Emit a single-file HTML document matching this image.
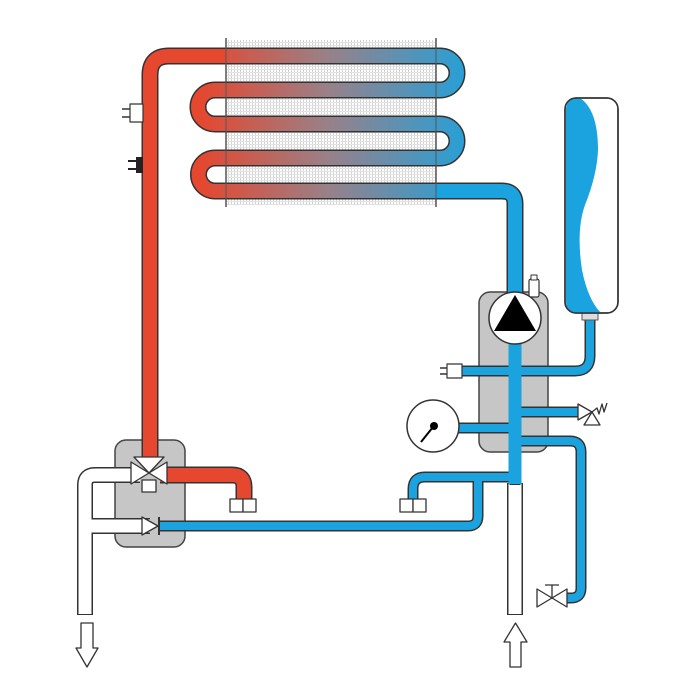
<!DOCTYPE html>
<html><head><meta charset="utf-8"><style>html,body{margin:0;padding:0;background:#fff}svg{display:block}</style></head>
<body>
<svg width="700" height="700" viewBox="0 0 700 700" xmlns="http://www.w3.org/2000/svg">
<defs>
<linearGradient id="g" gradientUnits="userSpaceOnUse" x1="200" y1="0" x2="480" y2="0">
<stop offset="0" stop-color="#e5472f"/><stop offset="0.45" stop-color="#9a8088"/><stop offset="1" stop-color="#1ba3df"/>
</linearGradient>
<pattern id="h" width="3" height="3" patternUnits="userSpaceOnUse">
<rect width="3" height="3" fill="#fff"/><rect width="1" height="3" fill="#d4d4d4"/><rect width="3" height="1" fill="#e2e2e2"/>
</pattern>
</defs>
<g fill="none" stroke-linejoin="round">
<rect x="226" y="40" width="210" height="165" fill="url(#h)" stroke="none"/>
<line x1="226" y1="38" x2="226" y2="207" stroke="#555" stroke-width="1.5"/>
<line x1="436" y1="38" x2="436" y2="207" stroke="#555" stroke-width="1.5"/>

<rect x="479" y="292" width="69" height="160" rx="11" fill="#c6c6c6" stroke="#444" stroke-width="1.5"/>
<rect x="115" y="440" width="70" height="107" rx="11" fill="#c6c6c6" stroke="#444" stroke-width="1.5"/>

<path d="M515,483 V615" stroke="#333" stroke-width="16"/>
<path d="M515,483 V614" stroke="#fff" stroke-width="13"/>
<path d="M140,475 H95 Q85,475 85,485 V615 M85,526 H150" stroke="#333" stroke-width="16"/>
<path d="M140,475 H95 Q85,475 85,485 V614 M85,526 H150" stroke="#fff" stroke-width="13"/>

<g stroke="#333" stroke-width="11">
<path d="M515,300 V485"/>
<path d="M450,371 H575 Q590,371 590,356 V316"/>
<path d="M515,412 H580"/>
<path d="M455,428 H515"/>
<path d="M515,441 H570 Q581,441 581,452 V588 Q581,598 571,598 H566"/>
<path d="M515,477 H425 Q413,477 413,489 V502"/>
<path d="M478,477 V516 Q478,526 468,526 H158"/>
</g>
<g stroke="#1ba3df" stroke-width="8">
<path d="M515,300 V484"/>
<path d="M450,371 H575 Q590,371 590,356 V316"/>
<path d="M515,412 H580"/>
<path d="M455,428 H515"/>
<path d="M515,441 H570 Q581,441 581,452 V588 Q581,598 571,598 H566"/>
<path d="M515,477 H425 Q413,477 413,489 V502"/>
<path d="M478,477 V516 Q478,526 468,526 H158"/>
</g>
<path d="M515,300 V484" stroke="#1ba3df" stroke-width="13"/>

<path d="M150,462 V75 Q150,56 169,56 H228" stroke="#333" stroke-width="17"/>
<path d="M150,462 V75 Q150,56 169,56 H228" stroke="#e5472f" stroke-width="14"/>
<path d="M160,475 H232 Q244,475 244,487 V500" stroke="#333" stroke-width="17"/>
<path d="M160,475 H232 Q244,475 244,487 V500" stroke="#e5472f" stroke-width="14"/>

<path d="M226,56 H440 A17,17 0 0 1 440,90 H215 A17,17 0 0 0 215,124 H440 A17,17 0 0 1 440,158 H215 A16.5,16.5 0 0 0 215,191 H502 Q515,191 515,204 V300" stroke="#333" stroke-width="17"/>
<path d="M226,56 H440 A17,17 0 0 1 440,90 H215 A17,17 0 0 0 215,124 H440 A17,17 0 0 1 440,158 H215 A16.5,16.5 0 0 0 215,191 H437" stroke="url(#g)" stroke-width="14"/>
<path d="M436,191 H502 Q515,191 515,204 V300" stroke="#1ba3df" stroke-width="14"/>
<line x1="226" y1="40" x2="226" y2="205" stroke="#555" stroke-width="1"/>
<line x1="436" y1="40" x2="436" y2="205" stroke="#555" stroke-width="1"/>

<rect x="130" y="104" width="13" height="18" fill="#fff" stroke="#333" stroke-width="1.2"/>
<path d="M122,109 H130 M122,117 H130" stroke="#333" stroke-width="1.5"/>
<rect x="136" y="157" width="7" height="16" fill="#222"/>
<path d="M128,161 H137 M128,169 H137" stroke="#222" stroke-width="2"/>

<rect x="230" y="499" width="13" height="13" fill="#fff" stroke="#333" stroke-width="1.3"/>
<rect x="243" y="499" width="13" height="13" fill="#fff" stroke="#333" stroke-width="1.3"/>
<rect x="400" y="499" width="13" height="13" fill="#fff" stroke="#333" stroke-width="1.3"/>
<rect x="413" y="499" width="13" height="13" fill="#fff" stroke="#333" stroke-width="1.3"/>

<rect x="142" y="480" width="14" height="12" fill="#fff" stroke="#333" stroke-width="1.3"/>
<polygon points="134,457 164,457 149,473" fill="#fff" stroke="#333" stroke-width="1.3"/>
<polygon points="131,462 131,484 149,473" fill="#fff" stroke="#333" stroke-width="1.3"/>
<polygon points="167,462 167,484 149,473" fill="#fff" stroke="#333" stroke-width="1.3"/>
<polygon points="142,517 142,535 158,526" fill="#fff" stroke="#333" stroke-width="1.3"/>
<line x1="159" y1="517" x2="159" y2="535" stroke="#333" stroke-width="2"/>

<circle cx="515" cy="318" r="26" fill="#fff" stroke="#333" stroke-width="1.5"/>
<polygon points="515,295 494,331 536,331" fill="#000"/>
<rect x="529" y="279" width="10" height="18" rx="2" fill="#fff" stroke="#333" stroke-width="1.2"/>
<rect x="531" y="275" width="6" height="5" fill="#fff" stroke="#333" stroke-width="1"/>

<rect x="447" y="364" width="15" height="14" fill="#fff" stroke="#333" stroke-width="1.2"/>
<path d="M440,368 H447 M440,374 H447" stroke="#333" stroke-width="1.5"/>

<circle cx="433" cy="426" r="26" fill="#fff" stroke="#333" stroke-width="1.5"/>
<line x1="421" y1="442" x2="433" y2="427" stroke="#000" stroke-width="2"/>
<circle cx="434" cy="426" r="4" fill="#000"/>

<polygon points="578,404 578,420 592,412" fill="#fff" stroke="#333" stroke-width="1.3"/>
<polygon points="584,425 600,425 592,412" fill="#fff" stroke="#333" stroke-width="1.3"/>
<path d="M592,412 L597,408 L599,414 L602,404 L604,412 L607,403" stroke="#333" stroke-width="1.3"/>

<polygon points="537,589 537,607 552,598" fill="#fff" stroke="#333" stroke-width="1.3"/>
<polygon points="567,589 567,607 552,598" fill="#fff" stroke="#333" stroke-width="1.3"/>
<path d="M552,598 V585 M545,585 H559" stroke="#333" stroke-width="1.3"/>

<rect x="582" y="312" width="16" height="8" fill="#ddd" stroke="#555" stroke-width="1"/>
<rect x="565" y="98" width="53" height="215" rx="11" fill="#fff" stroke="#333" stroke-width="1.5"/>
<path d="M576,98 Q568,98 566,108 V302 Q566,312 576,313 L601,313 Q588,300 582,270 Q576,230 585,205 Q597,175 598,150 Q598,110 580,98 Z" fill="#1ba3df"/>
<rect x="565" y="98" width="53" height="215" rx="11" fill="none" stroke="#333" stroke-width="1.5"/>

<polygon points="81,623 93,623 93,648 98,648 87,667 76,648 81,648" fill="#fff" stroke="#333" stroke-width="1.3"/>
<polygon points="510,667 521,667 521,642 527,642 515.5,623 504,642 510,642" fill="#fff" stroke="#333" stroke-width="1.3"/>
</g>
</svg>
</body></html>
